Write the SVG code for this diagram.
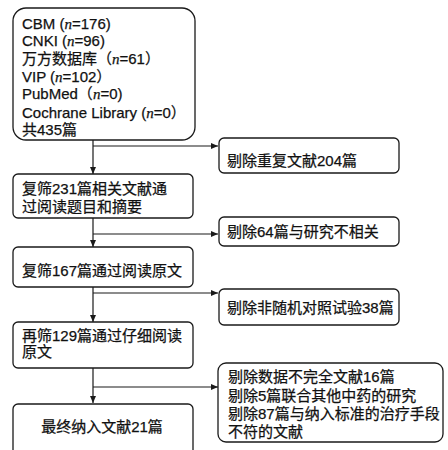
<svg xmlns="http://www.w3.org/2000/svg" width="448" height="450" viewBox="0 0 448 450">
<defs>
<style>
.box{fill:#fff;stroke:#1a1a1a;stroke-width:1.3}
.t{font-family:"Liberation Sans","Noto Sans CJK SC",sans-serif;font-size:15px;fill:#111;stroke:#111;stroke-width:0.25}
.t1{font-size:15px}
.it{font-family:"Liberation Serif",serif;font-style:italic}
.ln{fill:none;stroke:#1a1a1a;stroke-width:1.2}
</style>
<marker id="ah" markerWidth="8" markerHeight="8" refX="7" refY="4" orient="auto" markerUnits="userSpaceOnUse">
<path d="M0,1 L7,4 L0,7 Z" fill="#1a1a1a"/>
</marker>
</defs>
<rect width="448" height="450" fill="#fff"/>
<g id="connectors">
<path class="ln" d="M93,140 V174" marker-end="url(#ah)"/>
<path class="ln" d="M93,146 H218" marker-end="url(#ah)"/>
<path class="ln" d="M93,218 V247" marker-end="url(#ah)"/>
<path class="ln" d="M93,234 H218" marker-end="url(#ah)"/>
<path class="ln" d="M93,287 V322" marker-end="url(#ah)"/>
<path class="ln" d="M93,293 H218" marker-end="url(#ah)"/>
<path class="ln" d="M93,368 V403" marker-end="url(#ah)"/>
<path class="ln" d="M93,387 H218" marker-end="url(#ah)"/>
</g>
<g id="n1">
<rect class="box" x="13" y="8" width="182" height="132" rx="13"/>
<text class="t t1" x="22" y="28.5">CBM (<tspan class="it">n</tspan>=176)</text>
<text class="t t1" x="22" y="46">CNKI (<tspan class="it">n</tspan>=96)</text>
<text class="t t1" x="22" y="63.5">万方数据库（<tspan class="it">n</tspan>=61）</text>
<text class="t t1" x="22" y="81.5">VIP (<tspan class="it">n</tspan>=102）</text>
<text class="t t1" x="22" y="99">PubMed（<tspan class="it">n</tspan>=0)</text>
<text class="t t1" x="22" y="117.5">Cochrane Library (<tspan class="it">n</tspan>=0）</text>
<text class="t t1" x="22" y="135">共435篇</text>
</g>
<g id="n2">
<rect class="box" x="219" y="138" width="180" height="35" rx="5"/>
<text class="t" x="227" y="166">剔除重复文献204篇</text>
</g>
<g id="n3">
<rect class="box" x="13" y="174" width="180" height="44" rx="5"/>
<text class="t" x="22" y="193.5">复筛231篇相关文献通</text>
<text class="t" x="22" y="212">过阅读题目和摘要</text>
</g>
<g id="n4">
<rect class="box" x="219" y="217" width="180" height="29" rx="5"/>
<text class="t" x="227" y="237">剔除64篇与研究不相关</text>
</g>
<g id="n5">
<rect class="box" x="13" y="247" width="180" height="40" rx="5"/>
<text class="t" x="22" y="275.5">复筛167篇通过阅读原文</text>
</g>
<g id="n6">
<rect class="box" x="219" y="289" width="180" height="36" rx="5"/>
<text class="t" x="227" y="312.5">剔除非随机对照试验38篇</text>
</g>
<g id="n7">
<rect class="box" x="13" y="322" width="180" height="46" rx="5"/>
<text class="t" x="22" y="340.5">再筛129篇通过仔细阅读</text>
<text class="t" x="22" y="357">原文</text>
</g>
<g id="n8">
<rect class="box" x="218" y="363" width="225" height="79" rx="8"/>
<text class="t" x="228" y="382">剔除数据不完全文献16篇</text>
<text class="t" x="228" y="400.5">剔除5篇联合其他中药的研究</text>
<text class="t" x="228" y="419">剔除87篇与纳入标准的治疗手段</text>
<text class="t" x="228" y="437">不符的文献</text>
</g>
<g id="n9">
<rect class="box" x="13" y="404" width="180" height="56" rx="5"/>
<text class="t" x="102" y="432" text-anchor="middle">最终纳入文献21篇</text>
</g>
</svg>
